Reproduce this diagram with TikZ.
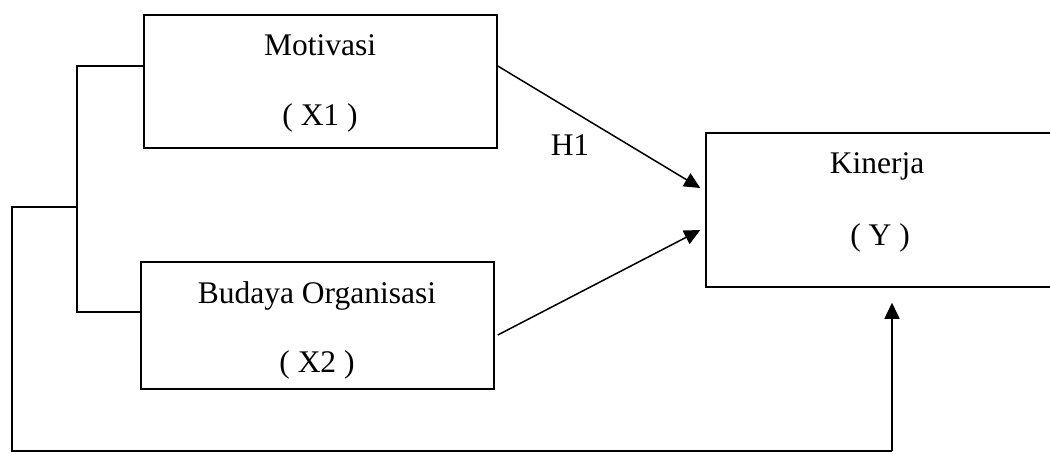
\documentclass[tikz,border=0pt]{standalone}
\usepackage{fontspec}
\setmainfont{Liberation Serif}
\usetikzlibrary{arrows.meta}
\begin{document}
\begin{tikzpicture}[x=1pt,y=-1pt,
  box/.style={draw,line width=1.5pt,rectangle,inner sep=0pt},
  lbl/.style={anchor=base,inner sep=0pt,font=\fontsize{31.5}{36}\selectfont},
  conn/.style={line width=1.5pt},
  arr/.style={conn,-{Triangle[length=16pt,width=15pt]}}]
\useasboundingbox (0,0) rectangle (1050,453);
\clip (0,0) rectangle (1050,453);
% boxes
\node[box,minimum width=353pt,minimum height=133pt] (m) at (320.5,81.5) {};
\node[box,minimum width=353pt,minimum height=127pt] (b) at (317.5,325.5) {};
\node[box,minimum width=354pt,minimum height=154pt] (k) at (883,210) {};
% texts
\node[lbl] (mt) at (320,55) {Motivasi};
\node[lbl] (mx) at (320,125) {( X1 )};
\node[lbl] (bt) at (317,303) {Budaya Organisasi};
\node[lbl] (bx) at (317,372) {( X2 )};
\node[lbl] (kt) at (877,173) {Kinerja};
\node[lbl] (ky) at (880,245) {( Y )};
\node[lbl] (h1) at (570,155) {H1};
% connectors
\draw[arr] ([yshift=15.5pt]m.east) -- ([xshift=-5pt,yshift=22pt]k.west);
\draw[arr] ([xshift=3pt,yshift=-9.5pt]b.east) -- ([xshift=-5pt,yshift=-20pt]k.west);
\coordinate (j) at (77,207);
\coordinate (jt) at (77,66);
\coordinate (jb) at (77,312);
\coordinate (c1) at (12,207);
\coordinate (c2) at (12,451);
\coordinate (c3) at (892,451);
\draw[conn] ([yshift=15.5pt]m.west) -- (jt) -- (jb) -- ([yshift=13.5pt]b.west);
\draw[conn] (j) -- (c1) -- (c2) -- (c3);
\draw[arr] (c3) -- ([xshift=9pt,yshift=-15pt]k.south);
\end{tikzpicture}
\end{document}
